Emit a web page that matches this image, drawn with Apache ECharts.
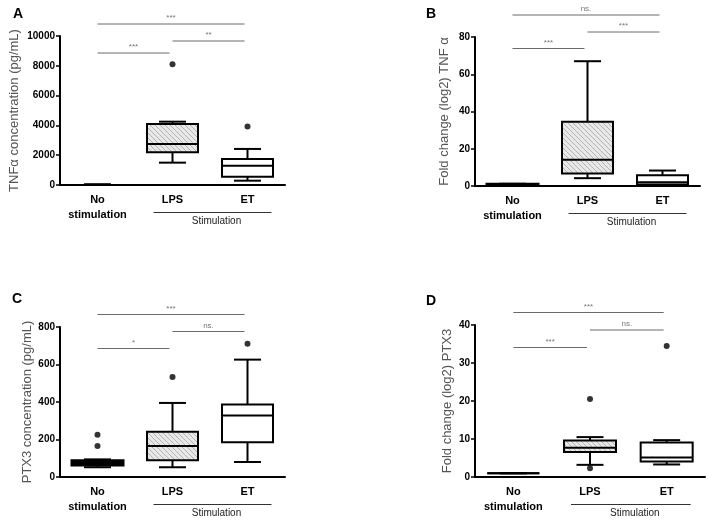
<!DOCTYPE html>
<html>
<head>
<meta charset="utf-8">
<script src="https://cdn.jsdelivr.net/npm/echarts@6/dist/echarts.min.js"></script>
<style>html,body{margin:0;padding:0;background:#fff;}#c{width:708px;height:520px;}</style>
</head>
<body>
<div id="c"></div>
<script>
// ---------- data ----------
const categories = ['No\nstimulation', 'LPS', 'ET'];
const panelLetters = ['A', 'B', 'C', 'D'];
const yNames = ['TNFα concentration (pg/mL)', 'Fold change (log2) TNF α', 'PTX3 concentration (pg/mL)', 'Fold change (log2) PTX3'];
// y axis ticks: [min, max, interval]
const yTicksA = [0, 10000, 2000];
const yTicksB = [0, 80, 20];
const yTicksC = [0, 800, 200];
const yTicksD = [0, 40, 10];
// boxes: [category index, low whisker, Q1, median, Q3, high whisker]
const tnfConcBoxes = [[0, 25, 25, 25, 25, 25], [1, 1500, 2200, 2750, 4100, 4250], [2, 290, 560, 1300, 1750, 2420]];
const tnfFoldBoxes = [[0, 0.8, 0.8, 1, 1.2, 1.2], [1, 4.2, 6.7, 14.1, 34.5, 67], [2, 0.5, 0.8, 2.0, 5.8, 8.3]];
const ptxConcBoxes = [[0, 52, 62, 75, 90, 94], [1, 52, 90, 165, 241, 395], [2, 80, 186, 328, 387, 626]];
const ptxFoldBoxes = [[0, 1, 1, 1, 1, 1], [1, 3.2, 6.6, 7.7, 9.6, 10.5], [2, 3.3, 4.1, 5.1, 9.1, 9.7]];
// outliers: [category index, value]
const tnfConcOutliers = [[1, 8100], [2, 3920]];
const tnfFoldOutliers = [];
const ptxConcOutliers = [[0, 225], [0, 165], [1, 534], [2, 711]];
const ptxFoldOutliers = [[1, 20.5], [1, 2.3], [2, 34.5]];
// significance comparisons: [from, to, label]
const sigA = [[0, 2, '***'], [1, 2, '**'], [0, 1, '***']];
const sigB = [[0, 2, 'ns.'], [1, 2, '***'], [0, 1, '***']];
const sigC = [[0, 2, '***'], [1, 2, 'ns.'], [0, 1, '*']];
const sigD = [[0, 2, '***'], [1, 2, 'ns.'], [0, 1, '***']];
// grouping bracket: [from, to, label]
const groupBracket = [[1, 2, 'Stimulation']];

// ---------- layout / style ----------
const FONT = 'Arial, "Liberation Sans", Helvetica, sans-serif';
const grids = [
  {left: 60, top: 36, width: 225, height: 149},
  {left: 475, top: 37, width: 225, height: 149},
  {left: 60, top: 327, width: 225, height: 150},
  {left: 475, top: 325, width: 230, height: 152}
];
const nameGaps = [39, 24, 26, 21];
const boxWidths = [[26, 51, 51], [52, 51, 51], [52, 51, 51], [52, 52, 52]];
const sigLevels = [[-12, 5, 17], [-22, -5, 11.5], [-12.5, 4.5, 21.5], [-12.5, 5, 22.5]];
const letterPos = [[8, 2], [421, 2], [7, 287], [421, 289]];

// hatch pattern
const pc = document.createElement('canvas');
pc.width = 5; pc.height = 5;
const pctx = pc.getContext('2d');
pctx.fillStyle = '#e8e8e8'; pctx.fillRect(0, 0, 5, 5);
pctx.strokeStyle = '#b4b4b4'; pctx.lineWidth = 1;
pctx.beginPath();
pctx.moveTo(0, 0); pctx.lineTo(5, 5);
pctx.moveTo(4, -1); pctx.lineTo(6, 1);
pctx.moveTo(-1, 4); pctx.lineTo(1, 6);
pctx.stroke();
const hatch = {image: pc, repeat: 'repeat'};
const fills = [['#ffffff', hatch, '#ffffff'], ['#ffffff', hatch, '#ffffff'], ['#000000', hatch, '#ffffff'], ['#ffffff', hatch, '#ffffff']];

function boxRender(panel) {
  return function (params, api) {
    const i = api.value(0);
    const low = api.value(1), q1 = api.value(2), med = api.value(3), q3 = api.value(4), high = api.value(5);
    const cx = api.coord([i, med])[0];
    const y = v => api.coord([i, v])[1];
    const bw = boxWidths[panel][i];
    const cw = 27;
    const ls = {stroke: '#000', lineWidth: 2, fill: null};
    const ch = [];
    ch.push({type: 'line', shape: {x1: cx, y1: y(q3), x2: cx, y2: y(high)}, style: ls});
    ch.push({type: 'line', shape: {x1: cx, y1: y(q1), x2: cx, y2: y(low)}, style: ls});
    ch.push({type: 'line', shape: {x1: cx - cw / 2, y1: y(high), x2: cx + cw / 2, y2: y(high)}, style: ls});
    ch.push({type: 'line', shape: {x1: cx - cw / 2, y1: y(low), x2: cx + cw / 2, y2: y(low)}, style: ls});
    ch.push({type: 'rect', shape: {x: cx - bw / 2, y: y(q3), width: bw, height: y(q1) - y(q3)},
      style: {fill: fills[panel][i], stroke: '#000', lineWidth: 2}});
    ch.push({type: 'line', shape: {x1: cx - bw / 2, y1: y(med), x2: cx + bw / 2, y2: y(med)}, style: ls});
    return {type: 'group', children: ch};
  };
}

function sigRender(panel, sig) {
  return function (params, api) {
    const row = sig[params.dataIndex];
    const x1 = api.coord([row[0], 0])[0];
    const x2 = api.coord([row[1], 0])[0] - 3;
    const yy = params.coordSys.y + sigLevels[panel][params.dataIndex];
    return {type: 'group', children: [
      {type: 'line', shape: {x1: x1, y1: yy, x2: x2, y2: yy}, style: {stroke: '#6a6a6a', lineWidth: 1}},
      {type: 'text', style: {text: row[2], x: (x1 + x2) / 2, y: yy - 2, align: 'center', verticalAlign: 'bottom',
        fill: '#777', font: '8px ' + FONT}}
    ]};
  };
}

function bracketRender(params, api) {
  const row = groupBracket[params.dataIndex];
  const x1 = api.coord([row[0], 0])[0] - 19;
  const x2 = api.coord([row[1], 0])[0] + 24;
  const yy = params.coordSys.y + params.coordSys.height + 27.5;
  return {type: 'group', children: [
    {type: 'line', shape: {x1: x1, y1: yy, x2: x2, y2: yy}, style: {stroke: '#333', lineWidth: 1}},
    {type: 'text', style: {text: row[2], x: (x1 + x2) / 2 + 4, y: yy + 9, align: 'center', verticalAlign: 'middle',
      fill: '#222', font: '10px ' + FONT}}
  ]};
}

const boxesAll = [tnfConcBoxes, tnfFoldBoxes, ptxConcBoxes, ptxFoldBoxes];
const outAll = [tnfConcOutliers, tnfFoldOutliers, ptxConcOutliers, ptxFoldOutliers];
const sigAll = [sigA, sigB, sigC, sigD];
const ticksAll = [yTicksA, yTicksB, yTicksC, yTicksD];

const xAxes = [], yAxes = [], series = [], titles = [];
for (let p = 0; p < 4; p++) {
  titles.push({text: panelLetters[p], left: letterPos[p][0], top: letterPos[p][1],
    textStyle: {fontSize: 14, fontWeight: 'bold', color: '#000', fontFamily: FONT}});
  xAxes.push({
    type: 'category', gridIndex: p, data: categories,
    axisLine: {lineStyle: {color: '#000', width: 2}},
    axisTick: {alignWithLabel: true, length: 4, lineStyle: {color: '#000', width: 1.5}},
    axisLabel: {color: '#000', fontWeight: 'bold', fontSize: 11, fontFamily: FONT, margin: 7, lineHeight: 15, interval: 0},
    splitLine: {show: false}
  });
  yAxes.push({
    type: 'value', gridIndex: p, min: ticksAll[p][0], max: ticksAll[p][1], interval: ticksAll[p][2],
    name: yNames[p], nameLocation: 'middle', nameGap: nameGaps[p],
    nameTextStyle: {color: '#555', fontSize: 13, fontFamily: FONT},
    axisLine: {show: true, lineStyle: {color: '#000', width: 2}},
    axisTick: {show: true, length: 4, lineStyle: {color: '#000', width: 1.5}},
    axisLabel: {color: '#000', fontWeight: 'bold', fontSize: 10, fontFamily: FONT, margin: 5,
      formatter: v => String(v)},
    splitLine: {show: false}
  });
  series.push({type: 'custom', xAxisIndex: p, yAxisIndex: p, renderItem: boxRender(p),
    data: boxesAll[p], encode: {x: 0, y: [1, 2, 3, 4, 5]}, z: 2});
  series.push({type: 'scatter', xAxisIndex: p, yAxisIndex: p, data: outAll[p], symbol: 'circle', symbolSize: 6,
    itemStyle: {color: '#000'}, z: 3});
  series.push({type: 'custom', xAxisIndex: p, yAxisIndex: p, renderItem: sigRender(p, sigAll[p]),
    data: sigAll[p].map(r => [r[0], r[1]]), encode: {x: [0, 1]}, z: 4, silent: true});
  series.push({type: 'custom', xAxisIndex: p, yAxisIndex: p, renderItem: bracketRender,
    data: groupBracket.map(r => [r[0], r[1]]), encode: {x: [0, 1]}, z: 4, silent: true});
}

const chart = echarts.init(document.getElementById('c'), null, {renderer: 'canvas'});
chart.setOption({
  animation: false,
  backgroundColor: '#fff',
  title: titles,
  grid: grids,
  xAxis: xAxes,
  yAxis: yAxes,
  series: series
});
</script>
</body>
</html>
